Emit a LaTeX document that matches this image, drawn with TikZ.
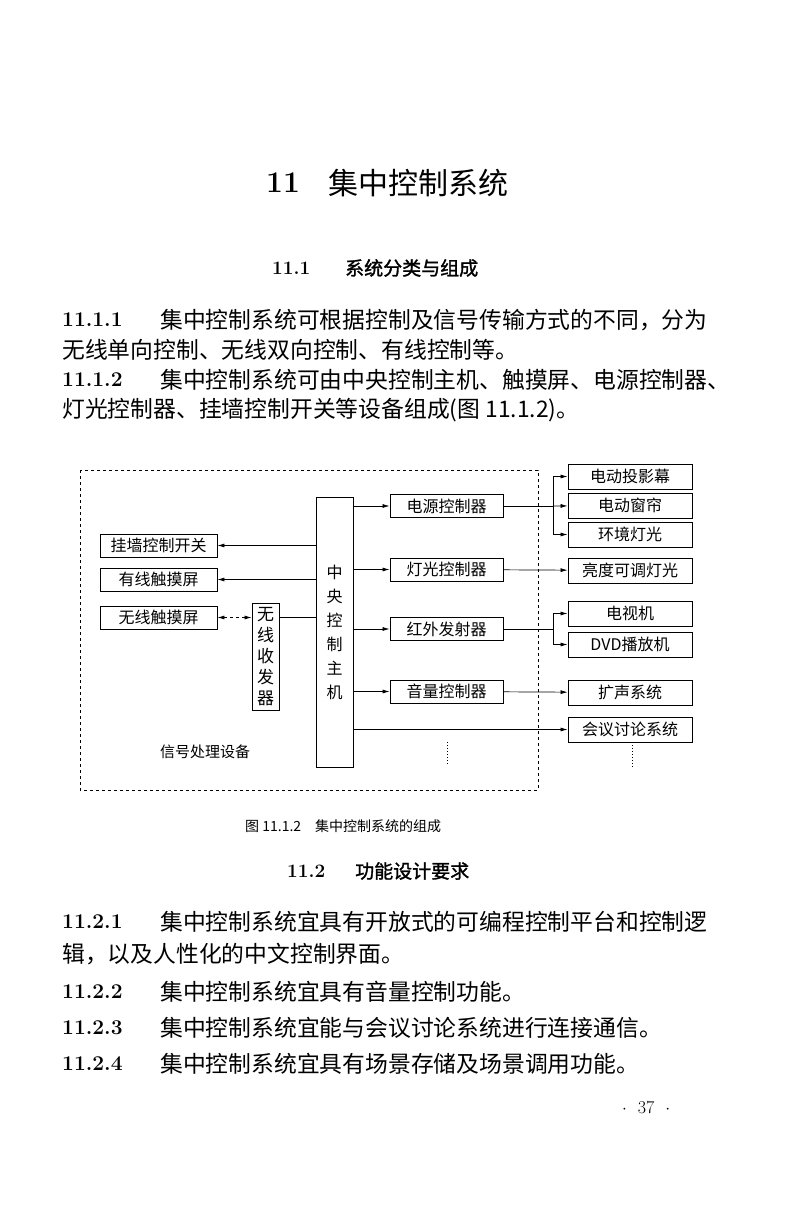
\documentclass[tikz,border=0pt]{standalone}
\usepackage{fontspec}
\newfontfamily\cjk{Noto Sans CJK SC}
\newfontfamily\cjkb[FakeBold=1.5]{Noto Sans CJK SC}
\usetikzlibrary{arrows.meta}
\begin{document}
\begin{tikzpicture}[x=1pt,y=-1pt,
  body/.style={anchor=west,inner sep=0,font=\cjk\fontsize{22.8}{24}\selectfont},
  num/.style={anchor=west,inner sep=0,font=\bfseries\fontsize{21}{24}\selectfont},
  box/.style={draw,line width=0.9pt,inner sep=0,font=\cjk\fontsize{16}{18}\selectfont},
  con/.style={line width=0.7pt},
  arr/.style={con,-{Latex[length=7pt,width=4pt]}}]
\useasboundingbox (0,0) rectangle (800,1228);
\fill[white] (0,0) rectangle (800,1228);
% page text
\node[num,font=\bfseries\fontsize{30}{32}\selectfont] (t0) at (266,183) {11};
\node[body,font=\cjk\fontsize{30}{32}\selectfont] (t1) at (328,183) {集中控制系统};
\node[num,font=\bfseries\fontsize{19}{21}\selectfont] (s1n) at (272,268) {11.1};
\node[body,font=\cjkb\fontsize{19}{21}\selectfont] (s1) at (345,268) {系统分类与组成};
\node[num] (p1n) at (62,320) {11.1.1};
\node[body] (p1) at (160,320) {集中控制系统可根据控制及信号传输方式的不同，分为};
\node[body] (p1b) at (62,350) {无线单向控制、无线双向控制、有线控制等。};
\node[num] (p2n) at (62,380) {11.1.2};
\node[body] (p2) at (160,380) {集中控制系统可由中央控制主机、触摸屏、电源控制器、};
\node[body] (p2b) at (62,410) {灯光控制器、挂墙控制开关等设备组成(图 11.1.2)。};
\node[body,font=\cjk\fontsize{14}{16}\selectfont] (cap) at (245,826) {图 11.1.2\quad 集中控制系统的组成};
\node[num,font=\bfseries\fontsize{19}{21}\selectfont] (s2n) at (287,871) {11.2};
\node[body,font=\cjkb\fontsize{19}{21}\selectfont] (s2) at (355,871) {功能设计要求};
\node[num] (q1n) at (62,922) {11.2.1};
\node[body] (q1) at (160,922) {集中控制系统宜具有开放式的可编程控制平台和控制逻};
\node[body] (q1b) at (62,954) {辑，以及人性化的中文控制界面。};
\node[num] (q2n) at (62,992) {11.2.2};
\node[body] (q2) at (160,992) {集中控制系统宜具有音量控制功能。};
\node[num] (q3n) at (62,1028) {11.2.3};
\node[body] (q3) at (160,1028) {集中控制系统宜能与会议讨论系统进行连接通信。};
\node[num] (q4n) at (62,1064) {11.2.4};
\node[body] (q4) at (160,1064) {集中控制系统宜具有场景存储及场景调用功能。};
\node[body,font=\fontsize{18}{20}\selectfont] (pg) at (622,1108) {$\cdot$\ \ 37\ \ $\cdot$};
% diagram
\draw[dashed,line width=0.7pt] (80,470) rectangle (538,790);
\node[box,minimum width=37pt,minimum height=270pt] (host) at (334.5,632) {};
\node[box,font=\cjk\fontsize{16}{24}\selectfont,align=center,draw=none] (hostt) at (334.5,632) {中\\央\\控\\制\\主\\机};
\node[box,minimum width=27pt,minimum height=107pt,align=center,font=\cjk\fontsize{17}{21}\selectfont] (wx) at (265.5,656.5) {无\\线\\收\\发\\器};
\node[box,minimum width=117pt,minimum height=23pt] (l1) at (158.5,545.5) {挂墙控制开关};
\node[box,minimum width=117pt,minimum height=23pt] (l2) at (158.5,579.5) {有线触摸屏};
\node[box,minimum width=117pt,minimum height=23pt] (l3) at (158.5,617.5) {无线触摸屏};
\foreach \n/\y/\t in {m1/506/电源控制器,m2/569.5/灯光控制器,m3/629/红外发射器,m4/691.5/音量控制器}
  \node[box,minimum width=113pt,minimum height=23pt] (\n) at (446.5,\y) {\t};
\foreach \n/\y/\t in {r1/476.5/电动投影幕,r2/505.5/电动窗帘,r3/534.5/环境灯光,r4/570.5/亮度可调灯光,r5/613.5/电视机,r6/644.5/DVD播放机,r7/692.5/扩声系统,r8/729.5/会议讨论系统}
  \node[box,minimum width=124pt,minimum height=25pt] (\n) at (630,\y) {\t};
\node[body,font=\cjk\fontsize{15}{17}\selectfont,anchor=center] (sig) at (205,752) {信号处理设备};
% connectors
\draw[arr] (host.east |- m1) -- (m1);
\draw[arr] (host.east |- m2) -- (m2);
\draw[arr] (host.east |- m3) -- (m3);
\draw[arr] (host.east |- m4) -- (m4);
\coordinate (j1) at (553,506);
\draw[con] (m1) -- (j1);
\draw[arr] (j1) |- (r1);
\draw[arr] (j1) -- (r2);
\draw[arr] (j1) |- (r3);
\draw[arr] (m2) -- (r4);
\coordinate (j3) at (553,629);
\draw[con] (m3) -- (j3);
\draw[arr] (j3) |- (r5);
\draw[arr] (j3) |- (r6);
\draw[arr] (m4) -- (r7);
\draw[arr] (host.east |- r8) -- (r8);
\draw[arr] (host.west |- l1) -- (l1);
\draw[arr] (host.west |- l2) -- (l2);
\draw[con] (host.west |- l3) -- (wx.east |- l3);
\draw[con,dashed,{Latex[length=7pt,width=4pt]}-{Latex[length=7pt,width=4pt]}] (l3) -- (wx.west |- l3);
\coordinate (d1a) at (447,742); \coordinate (d1b) at (447,765);
\coordinate (d2a) at (632,745); \coordinate (d2b) at (632,767);
\draw[dotted,line width=1pt] (d1a) -- (d1b);
\draw[dotted,line width=1pt] (d2a) -- (d2b);
\end{tikzpicture}
\end{document}
